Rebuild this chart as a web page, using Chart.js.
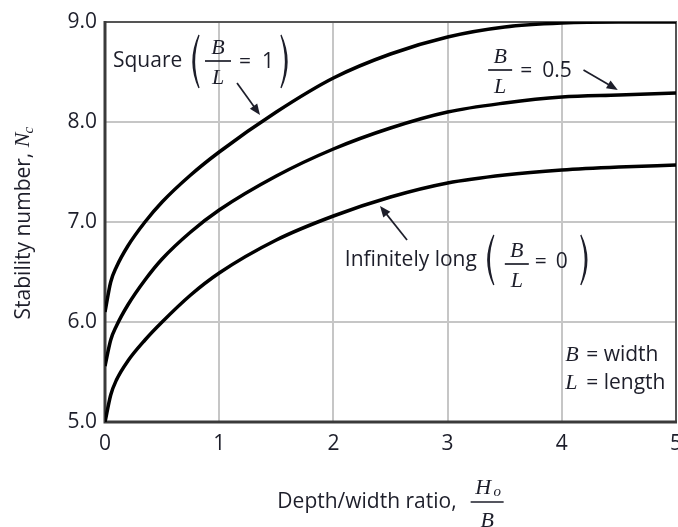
<!DOCTYPE html>
<html>
<head>
<meta charset="utf-8">
<script src="https://cdn.jsdelivr.net/npm/chart.js@4.4.1/dist/chart.umd.min.js"></script>
<style>
  html, body { margin: 0; padding: 0; background: #fff; }
  canvas { display: block; }
</style>
</head>
<body>
<canvas id="chart" width="678" height="527"></canvas>
<script>
// Depth/width ratio H_o/B
const ratios   = [0, 0.05, 0.1, 0.2, 0.35, 0.5, 0.75, 1, 1.5, 2, 2.5, 3, 3.5, 4, 4.5, 5];
// Stability number N_c for each footing shape
const squareNc = [6.10, 6.40, 6.55, 6.76, 7.00, 7.20, 7.47, 7.70, 8.10, 8.44, 8.68, 8.85, 8.95, 8.99, 9.00, 9.00];
const halfNc   = [5.56, 5.82, 5.96, 6.17, 6.42, 6.63, 6.90, 7.12, 7.46, 7.73, 7.94, 8.10, 8.19, 8.25, 8.27, 8.29];
const stripNc  = [5.00, 5.27, 5.42, 5.61, 5.82, 6.00, 6.27, 6.49, 6.82, 7.06, 7.25, 7.39, 7.47, 7.52, 7.55, 7.57];
const seriesNames = ['Square (B/L = 1)', 'B/L = 0.5', 'Infinitely long (B/L = 0)'];
const xTickValues = [0, 1, 2, 3, 4, 5];
const yTickValues = [5, 6, 7, 8, 9];

const TEXT = '#1d1e2a';
const SANS = '"Open Sans", "Liberation Sans", sans-serif';
const LABEL_FONT = '500 21px ' + SANS;
const SERIF_I = 'italic 22px "Liberation Serif", serif';

const toPoints = ys => ratios.map((x, i) => ({ x, y: ys[i] }));

function lineSet(label, ys) {
  return {
    label,
    data: toPoints(ys),
    borderColor: '#000',
    borderWidth: 3.5,
    pointRadius: 0,
    fill: false,
    cubicInterpolationMode: 'monotone'
  };
}

// stacked fraction centred at cx with its bar at cy
function fraction(ctx, cx, cy, top, bottom, half) {
  ctx.font = SERIF_I;
  ctx.textAlign = 'center';
  ctx.textBaseline = 'alphabetic';
  ctx.fillText(top, cx, cy - 7);
  ctx.fillText(bottom, cx, cy + 23);
  ctx.lineWidth = 1.7;
  ctx.beginPath();
  ctx.moveTo(cx - half, cy);
  ctx.lineTo(cx + half, cy);
  ctx.stroke();
}

// tall bracket drawn as a thin crescent
function paren(ctx, x, yTop, yBot, open) {
  const d = open ? -1 : 1;
  const mid = (yTop + yBot) / 2;
  ctx.beginPath();
  ctx.moveTo(x, yTop);
  ctx.quadraticCurveTo(x + d * 9, mid, x, yBot);
  ctx.quadraticCurveTo(x + d * 12, mid, x, yTop);
  ctx.fill();
  ctx.lineWidth = 1.3;
  ctx.stroke();
}

function arrow(ctx, x1, y1, x2, y2) {
  const a = Math.atan2(y2 - y1, x2 - x1);
  const len = 11, w = 4.5;
  ctx.lineWidth = 1.7;
  ctx.beginPath();
  ctx.moveTo(x1, y1);
  ctx.lineTo(x2 - Math.cos(a) * len * 0.8, y2 - Math.sin(a) * len * 0.8);
  ctx.stroke();
  ctx.beginPath();
  ctx.moveTo(x2, y2);
  ctx.lineTo(x2 - Math.cos(a) * len - Math.sin(a) * w, y2 - Math.sin(a) * len + Math.cos(a) * w);
  ctx.lineTo(x2 - Math.cos(a) * len + Math.sin(a) * w, y2 - Math.sin(a) * len - Math.cos(a) * w);
  ctx.closePath();
  ctx.fill();
}

function text(ctx, str, x, y, font) {
  ctx.font = font || LABEL_FONT;
  ctx.textAlign = 'left';
  ctx.textBaseline = 'middle';
  ctx.fillText(str, x, y);
}

// chart frame: heavier left/bottom axes, lighter top/right border
const framePlugin = {
  id: 'frame',
  beforeDatasetsDraw(chart) {
    const { ctx, chartArea: a } = chart;
    ctx.save();
    ctx.strokeStyle = '#555';
    ctx.lineWidth = 2;
    ctx.beginPath();
    ctx.moveTo(a.left, a.top);
    ctx.lineTo(a.right, a.top);
    ctx.lineTo(a.right, a.bottom);
    ctx.stroke();
    ctx.strokeStyle = '#3a3a3a';
    ctx.lineWidth = 3;
    ctx.beginPath();
    ctx.moveTo(a.left, a.top - 1);
    ctx.lineTo(a.left, a.bottom);
    ctx.lineTo(a.right + 1, a.bottom);
    ctx.stroke();
    ctx.restore();
  }
};

// axis titles and curve labels
const labelPlugin = {
  id: 'labels',
  afterDraw(chart) {
    const { ctx, chartArea: a } = chart;
    const xs = chart.scales.x, ys = chart.scales.y;
    const P = (x, y) => [xs.getPixelForValue(x), ys.getPixelForValue(y)];
    ctx.save();
    ctx.fillStyle = TEXT;
    ctx.strokeStyle = TEXT;

    // y-axis title: Stability number, N_c
    ctx.save();
    ctx.translate(24, (a.top + a.bottom) / 2);
    ctx.rotate(-Math.PI / 2);
    const yt = 'Stability number, ';
    ctx.font = LABEL_FONT;
    const w1 = ctx.measureText(yt).width;
    ctx.font = SERIF_I;
    const w2 = ctx.measureText('N').width;
    const total = w1 + w2 + 8;
    const sx = -total / 2;
    text(ctx, yt, sx, 0);
    text(ctx, 'N', sx + w1, -1, SERIF_I);
    text(ctx, 'c', sx + w1 + w2 - 1, 5, 'italic 15px "Liberation Serif", serif');
    ctx.restore();

    // x-axis title with fraction H_o / B
    ctx.font = LABEL_FONT;
    const xt = 'Depth/width ratio,';
    const tw = ctx.measureText(xt).width;
    const fw = 33;
    const x0 = (a.left + a.right) / 2 - (tw + 14 + fw) / 2;
    const ty = 502;
    text(ctx, xt, x0, ty);
    const fx = x0 + tw + 14 + fw / 2;
    ctx.font = SERIF_I;
    ctx.textAlign = 'center';
    ctx.textBaseline = 'alphabetic';
    ctx.fillText('H', fx - 4, ty - 8);
    ctx.font = 'italic 15px "Liberation Serif", serif';
    ctx.fillText('o', fx + 10, ty - 6);
    ctx.font = SERIF_I;
    ctx.fillText('B', fx, ty + 25);
    ctx.lineWidth = 1.7;
    ctx.beginPath();
    ctx.moveTo(fx - fw / 2, ty);
    ctx.lineTo(fx + fw / 2, ty);
    ctx.stroke();

    // Square (B/L = 1)
    let [px, py] = P(0.07, 8.61);
    text(ctx, 'Square', px, py);
    paren(ctx, px + 86, py - 26, py + 27, true);
    fraction(ctx, px + 105, py, 'B', 'L', 13);
    text(ctx, '=', px + 126, py + 1);
    text(ctx, '1', px + 149, py + 1);
    paren(ctx, px + 168, py - 26, py + 27, false);
    let [ax1, ay1] = P(1.156, 8.39), [ax2, ay2] = P(1.357, 8.07);
    arrow(ctx, ax1, ay1, ax2, ay2);

    // B/L = 0.5
    [px, py] = P(3.46, 8.52);
    fraction(ctx, px, py, 'B', 'L', 12);
    text(ctx, '=', px + 20, py + 1);
    text(ctx, '0.5', px + 42, py + 1);
    [ax1, ay1] = P(4.19, 8.52); [ax2, ay2] = P(4.49, 8.32);
    arrow(ctx, ax1, ay1, ax2, ay2);

    // Infinitely long (B/L = 0)
    [px, py] = P(2.10, 6.62);
    text(ctx, 'Infinitely long', px, py);
    paren(ctx, px + 149, py - 25, py + 25, true);
    fraction(ctx, px + 172, py + 4, 'B', 'L', 12);
    text(ctx, '=', px + 190, py + 2);
    text(ctx, '0', px + 211, py + 2);
    paren(ctx, px + 236, py - 25, py + 25, false);
    [ax1, ay1] = P(2.645, 6.82); [ax2, ay2] = P(2.408, 7.16);
    arrow(ctx, ax1, ay1, ax2, ay2);

    // symbol key
    [px, py] = P(4.03, 5.67);
    text(ctx, 'B', px, py, SERIF_I);
    text(ctx, '= width', px + 21, py);
    [px, py] = P(4.03, 5.39);
    text(ctx, 'L', px, py, SERIF_I);
    text(ctx, '= length', px + 21, py);

    ctx.restore();
  }
};

new Chart(document.getElementById('chart'), {
  type: 'line',
  data: {
    datasets: [
      lineSet(seriesNames[0], squareNc),
      lineSet(seriesNames[1], halfNc),
      lineSet(seriesNames[2], stripNc)
    ]
  },
  options: {
    responsive: false,
    animation: false,
    devicePixelRatio: 1,
    layout: { padding: { top: 22, right: 2, left: 0, bottom: 0 } },
    plugins: { legend: { display: false }, tooltip: { enabled: false } },
    scales: {
      x: {
        type: 'linear',
        min: 0, max: 5,
        afterBuildTicks: s => { s.ticks = xTickValues.map(v => ({ value: v })); },
        afterFit: s => { s.height = 105; s.paddingLeft = 0; s.paddingRight = 0; },
        ticks: {
          color: TEXT,
          font: { family: SANS, size: 21, weight: '500' },
          padding: 9,
          maxRotation: 0,
          callback: v => String(v)
        },
        grid: { color: '#c6c6c6', lineWidth: 2, drawTicks: false },
        border: { display: false }
      },
      y: {
        type: 'linear',
        min: 5, max: 9,
        afterBuildTicks: s => { s.ticks = yTickValues.map(v => ({ value: v })); },
        afterFit: s => { s.width = 105; s.paddingTop = 0; s.paddingBottom = 0; },
        ticks: {
          color: TEXT,
          font: { family: SANS, size: 21, weight: '500' },
          padding: 8,
          callback: v => v.toFixed(1)
        },
        grid: { color: '#c6c6c6', lineWidth: 2, drawTicks: false },
        border: { display: false }
      }
    }
  },
  plugins: [framePlugin, labelPlugin]
});
</script>
</body>
</html>
